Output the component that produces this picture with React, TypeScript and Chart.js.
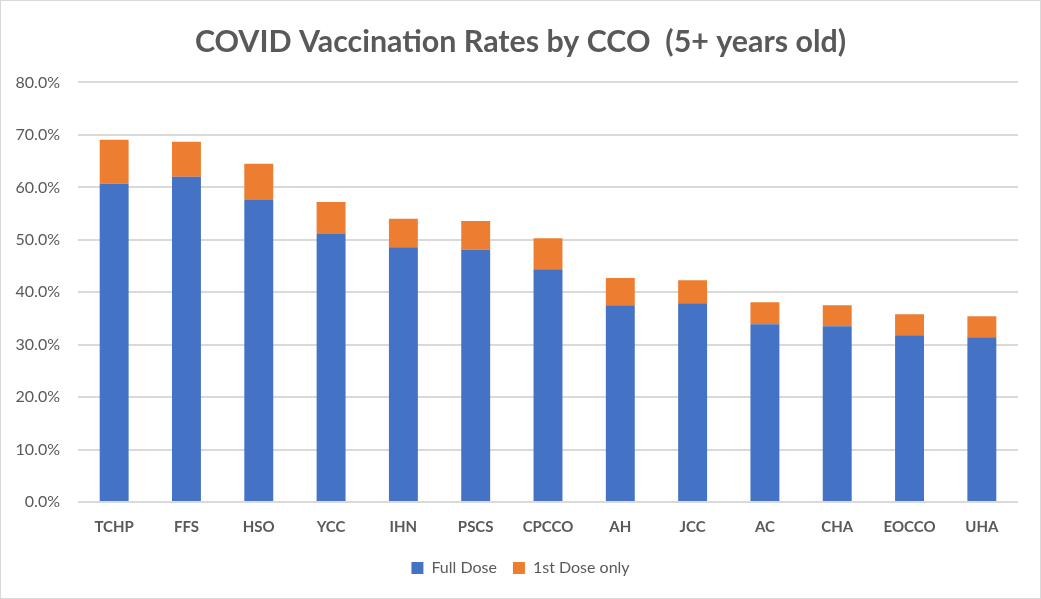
import React, { useEffect, useRef } from "react";
import { Chart, registerables } from "chart.js";

Chart.register(...registerables);

const categories = ["TCHP", "FFS", "HSO", "YCC", "IHN", "PSCS", "CPCCO", "AH", "JCC", "AC", "CHA", "EOCCO", "UHA"];
const fullDose = [60.7, 62.0, 57.6, 51.1, 48.6, 48.1, 44.4, 37.5, 37.9, 33.9, 33.5, 31.8, 31.4];
const firstDoseOnly = [8.4, 6.7, 6.9, 6.1, 5.4, 5.5, 5.9, 5.2, 4.4, 4.2, 4.0, 4.0, 4.0];
const yTicks = [0, 10, 20, 30, 40, 50, 60, 70, 80];

const FONT = "Lato, 'Open Sans', sans-serif";

const borderPlugin = {
  id: "frame",
  beforeDraw(chart: any) {
    const { ctx, width, height } = chart;
    ctx.save();
    ctx.fillStyle = "#ffffff";
    ctx.fillRect(0, 0, width, height);
    ctx.strokeStyle = "#d9d9d9";
    ctx.lineWidth = 1;
    ctx.strokeRect(0.5, 0.5, width - 1, height - 1);
    ctx.restore();
  },
};

export default function App() {
  const ref = useRef<HTMLCanvasElement | null>(null);
  useEffect(() => {
    document.body.style.margin = "0";
    const chart = new Chart(ref.current!, {
      type: "bar",
      data: {
        labels: categories,
        datasets: [
          { label: "Full Dose", data: fullDose, backgroundColor: "#4472C4", barPercentage: 0.4, categoryPercentage: 1 },
          { label: "1st Dose only", data: firstDoseOnly, backgroundColor: "#ED7D31", barPercentage: 0.4, categoryPercentage: 1 },
        ],
      },
      options: {
        animation: false,
        responsive: false,
        devicePixelRatio: 1,
        layout: { padding: { left: 0, right: 0, top: 0, bottom: 13 } },
        plugins: {
          tooltip: { enabled: false },
          title: {
            display: true,
            text: "COVID Vaccination Rates by CCO  (5+ years old)",
            color: "#595959",
            font: { family: FONT, size: 30.4, weight: "bold" },
            padding: { top: 24, bottom: 22 },
          },
          legend: {
            position: "bottom",
            labels: {
              color: "#595959",
              font: { family: FONT, size: 16 },
              boxWidth: 12,
              boxHeight: 12,
              padding: 16,
            },
          },
        },
        scales: {
          x: {
            stacked: true,
            grid: { display: false },
            border: { display: false },
            ticks: { color: "#595959", font: { family: FONT, size: 15, weight: "bold" }, padding: 8 },
          },
          y: {
            stacked: true,
            min: 0,
            max: 80,
            afterBuildTicks(scale: any) {
              scale.ticks = yTicks.map((v) => ({ value: v }));
            },
            afterFit(scale: any) {
              scale.width = 78;
            },
            grid: { color: "#d9d9d9", lineWidth: 2, drawTicks: false },
            border: { display: false },
            ticks: {
              color: "#595959",
              font: { family: FONT, size: 16 },
              padding: 18,
              callback: (v: any) => Number(v).toFixed(1) + "%",
            },
          },
          yRight: {
            type: "linear",
            position: "right",
            display: true,
            grid: { display: false },
            border: { display: false },
            ticks: { display: false },
            afterFit(scale: any) {
              scale.width = 23;
            },
          },
        },
      },
      plugins: [borderPlugin],
    });
    return () => chart.destroy();
  }, []);
  return <canvas ref={ref} width={1041} height={599} style={{ display: "block" }} />;
}
